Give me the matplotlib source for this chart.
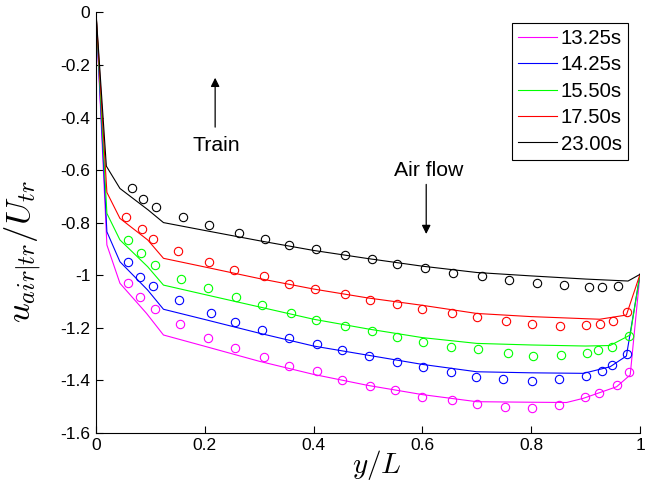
import matplotlib
matplotlib.use("Agg")
import matplotlib.pyplot as plt

plt.rcParams['font.family'] = ['Liberation Sans', 'DejaVu Sans']
plt.rcParams['mathtext.fontset'] = 'cm'

labels = ['13.25s', '14.25s', '15.50s', '17.50s', '23.00s']
colors = ['#ff00ff', '#0000ff', '#00ff00', '#ff0000', '#000000']

# simulation lines (x nodes + y per series)
line_x = {
    '13.25s': [0, 0.02, 0.044, 0.093, 0.124, 0.2, 0.3, 0.4, 0.5, 0.6, 0.7, 0.8, 0.865, 0.896, 0.957, 0.982, 1.0],
    '14.25s': [0, 0.02, 0.044, 0.095, 0.124, 0.2, 0.3, 0.4, 0.5, 0.6, 0.7, 0.8, 0.896, 0.945, 0.975, 1.0],
    '15.50s': [0, 0.02, 0.044, 0.095, 0.124, 0.2, 0.3, 0.4, 0.5, 0.6, 0.7, 0.8, 0.9, 0.945, 0.982, 1.0],
    '17.50s': [0, 0.02, 0.044, 0.095, 0.124, 0.2, 0.3, 0.4, 0.5, 0.6, 0.7, 0.8, 0.9, 0.926, 0.975, 1.0],
    '23.00s': [0, 0.019, 0.044, 0.096, 0.124, 0.2, 0.3, 0.4, 0.5, 0.6, 0.7, 0.8, 0.9, 0.978, 1.0],
}
line_y = {
    '13.25s': [0, -0.885, -1.031, -1.146, -1.228, -1.271, -1.328, -1.378, -1.420, -1.455, -1.482, -1.484, -1.485, -1.469, -1.425, -1.380, -0.997],
    '14.25s': [0, -0.835, -0.949, -1.057, -1.130, -1.169, -1.221, -1.270, -1.305, -1.340, -1.368, -1.372, -1.374, -1.349, -1.308, -0.997],
    '15.50s': [0, -0.765, -0.866, -0.968, -1.038, -1.074, -1.121, -1.168, -1.205, -1.238, -1.260, -1.266, -1.270, -1.268, -1.228, -0.997],
    '17.50s': [0, -0.685, -0.784, -0.866, -0.936, -0.969, -1.013, -1.053, -1.087, -1.115, -1.146, -1.158, -1.166, -1.168, -1.152, -0.997],
    '23.00s': [0, -0.585, -0.670, -0.752, -0.800, -0.830, -0.869, -0.906, -0.937, -0.966, -0.990, -1.003, -1.015, -1.0225, -0.997],
}

# experimental points
pts_x = {
    '13.25s': [0.059, 0.081, 0.108, 0.154, 0.206, 0.255, 0.309, 0.355, 0.406, 0.453, 0.504, 0.550, 0.600, 0.655, 0.700, 0.752, 0.801, 0.851, 0.898, 0.925, 0.957, 0.980],
    '14.25s': [0.058, 0.080, 0.104, 0.153, 0.211, 0.255, 0.305, 0.354, 0.406, 0.453, 0.501, 0.553, 0.602, 0.652, 0.699, 0.749, 0.802, 0.851, 0.900, 0.931, 0.949, 0.977],
    '15.50s': [0.059, 0.083, 0.108, 0.156, 0.205, 0.257, 0.306, 0.358, 0.404, 0.458, 0.507, 0.553, 0.602, 0.652, 0.702, 0.757, 0.804, 0.854, 0.903, 0.923, 0.949, 0.980],
    '17.50s': [0.056, 0.084, 0.105, 0.151, 0.208, 0.254, 0.309, 0.354, 0.403, 0.458, 0.504, 0.554, 0.600, 0.655, 0.701, 0.754, 0.802, 0.853, 0.901, 0.926, 0.950, 0.977],
    '23.00s': [0.066, 0.087, 0.110, 0.159, 0.208, 0.263, 0.311, 0.355, 0.404, 0.458, 0.508, 0.554, 0.604, 0.656, 0.710, 0.759, 0.811, 0.860, 0.906, 0.931, 0.960],
}
pts_y = {
    '13.25s': [-1.029, -1.082, -1.130, -1.187, -1.241, -1.279, -1.311, -1.345, -1.365, -1.399, -1.422, -1.438, -1.463, -1.476, -1.491, -1.501, -1.506, -1.495, -1.463, -1.450, -1.418, -1.370],
    '14.25s': [-0.949, -1.008, -1.041, -1.096, -1.143, -1.179, -1.210, -1.241, -1.262, -1.285, -1.307, -1.330, -1.349, -1.368, -1.387, -1.397, -1.403, -1.397, -1.384, -1.365, -1.342, -1.301],
    '15.50s': [-0.866, -0.917, -0.963, -1.014, -1.048, -1.083, -1.115, -1.143, -1.171, -1.193, -1.213, -1.235, -1.256, -1.273, -1.281, -1.298, -1.308, -1.304, -1.298, -1.285, -1.274, -1.231],
    '17.50s': [-0.778, -0.826, -0.863, -0.907, -0.949, -0.981, -1.003, -1.034, -1.054, -1.072, -1.095, -1.111, -1.130, -1.143, -1.161, -1.175, -1.185, -1.193, -1.189, -1.185, -1.175, -1.139],
    '23.00s': [-0.667, -0.709, -0.741, -0.779, -0.810, -0.841, -0.864, -0.885, -0.902, -0.925, -0.937, -0.959, -0.972, -0.993, -1.003, -1.019, -1.031, -1.038, -1.046, -1.046, -1.041],
}

xticks = [0, 0.2, 0.4, 0.6, 0.8, 1]
xticklabels = ['0', '0.2', '0.4', '0.6', '0.8', '1']
yticks = [0, -0.2, -0.4, -0.6, -0.8, -1.0, -1.2, -1.4, -1.6]
yticklabels = ['0', '-0.2', '-0.4', '-0.6', '-0.8', '-1', '-1.2', '-1.4', '-1.6']

fig = plt.figure(figsize=(6.54, 4.94), dpi=100)
ax = fig.add_axes([0.1468, 0.1241, 0.8318, 0.8506])

for lab, c in zip(labels, colors):
    ax.plot(line_x[lab], line_y[lab], color=c, lw=0.8, label=lab)
for lab, c in zip(labels, colors):
    ax.plot(pts_x[lab], pts_y[lab], 'o', mfc='none', mec=c, mew=0.8, ms=6)

ax.set_xlim(0, 1)
ax.set_ylim(-1.6, 0)
ax.set_xticks(xticks)
ax.set_xticklabels(xticklabels)
ax.set_yticks(yticks)
ax.set_yticklabels(yticklabels)
ax.tick_params(direction='in', length=5, width=0.8, labelsize=12.5, pad=4)
ax.spines['top'].set_visible(False)
ax.spines['right'].set_visible(False)
for s in ['left', 'bottom']:
    ax.spines[s].set_linewidth(0.8)

ax.set_xlabel(r'$y/L$', fontsize=21, va='center', ha='center')
ax.xaxis.set_label_coords(0.5165, -0.077)
ax.set_ylabel(r'$u_{air|tr}/U_{tr}$', fontsize=25, va='center', ha='center')
ax.yaxis.set_label_coords(-0.134, 0.432)

ax.annotate('', xy=(0.219, -0.238), xytext=(0.219, -0.447),
            arrowprops=dict(arrowstyle='-|>', color='black', lw=0.9, mutation_scale=13))
ax.text(0.222, -0.505, 'Train', fontsize=15.3, ha='center', va='center')
ax.text(0.611, -0.600, 'Air flow', fontsize=15.3, ha='center', va='center')
ax.annotate('', xy=(0.607, -0.854), xytext=(0.607, -0.644),
            arrowprops=dict(arrowstyle='-|>', color='black', lw=0.9, mutation_scale=13))

leg = ax.legend(loc='upper right', bbox_to_anchor=(0.978, 0.975), borderaxespad=0,
                fontsize=14.7, frameon=True, fancybox=False, framealpha=1,
                edgecolor='black', handlelength=1.9, handletextpad=0.2,
                labelspacing=0.36, borderpad=0.3)
leg.get_frame().set_linewidth(0.8)

fig.savefig('out.png', dpi=100)
